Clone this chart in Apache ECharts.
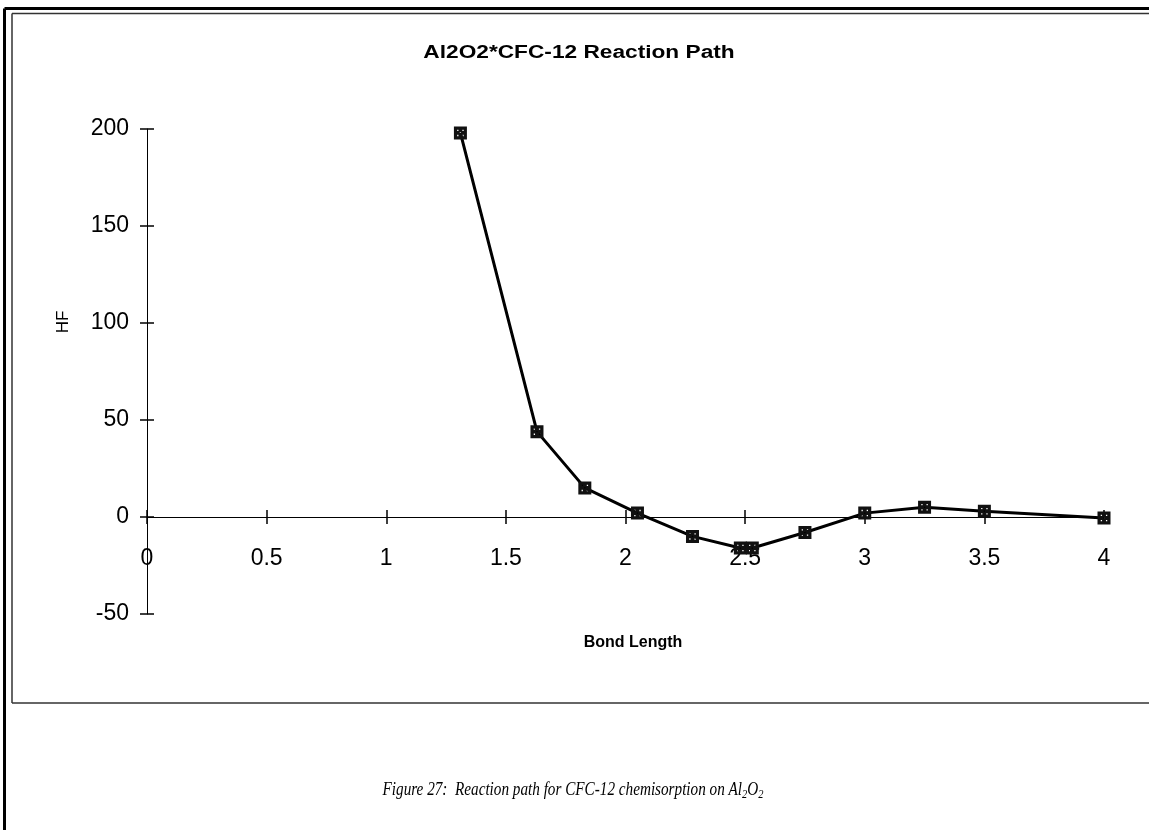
<!DOCTYPE html>
<html>
<head>
<meta charset="utf-8">
<script src="https://cdn.jsdelivr.net/npm/echarts@6/dist/echarts.min.js"></script>
<style>
html,body{margin:0;padding:0;background:#fff;}
#chart{width:1149px;height:830px;}
</style>
</head>
<body>
<div id="chart"></div>
<script>
const titleText = 'Al2O2*CFC-12 Reaction Path';
const xName = 'Bond Length';
const yName = 'HF';
const bondLength = [1.31, 1.63, 1.83, 2.05, 2.28, 2.48, 2.53, 2.75, 3.0, 3.25, 3.5, 4.0];
const hf = [198, 44, 15, 2, -10, -16, -16, -8, 2, 5, 3, -0.5];
const xTicks = [0, 0.5, 1, 1.5, 2, 2.5, 3, 3.5, 4];
const yTicks = [-50, 0, 50, 100, 150, 200];

const G = {left: 147, right: 45, top: 129, bottom: 216};
const W = 1149, H = 830;
const plotH = H - G.top - G.bottom;
const plotW = W - G.left - G.right;
const yMin = yTicks[0], yMax = yTicks[yTicks.length - 1];
const xMin = xTicks[0], xMax = xTicks[xTicks.length - 1];
const zeroFromBottom = (0 - yMin) / (yMax - yMin) * plotH;
const zeroFromTop = (yMax - 0) / (yMax - yMin) * plotH;

const chart = echarts.init(document.getElementById('chart'));
const markerPath = 'path://M0,0L12,0L12,12L0,12Z M3,3L3,4.2L4.2,4.2L4.2,3Z M7.8,3L7.8,4.2L9,4.2L9,3Z M5.4,5.4L5.4,6.6L6.6,6.6L6.6,5.4Z M3,7.8L3,9L4.2,9L4.2,7.8Z M7.8,7.8L7.8,9L9,9L9,7.8Z';
const axisFont = {fontFamily: 'Liberation Sans, Arial, sans-serif', fontSize: 23, color: '#000'};

function xAx(main, pos, offset) {
  return {
    type: 'value', min: xMin, max: xMax, interval: 0.5,
    position: pos, offset: offset,
    axisLine: {show: main, onZero: false, lineStyle: {color: '#000', width: 1}},
    axisTick: {show: true, inside: false, length: 7, lineStyle: {color: '#000', width: 1.5}},
    axisLabel: Object.assign({show: main, margin: 30}, axisFont),
    splitLine: {show: false}
  };
}
function yAx(main, pos, offset) {
  return {
    type: 'value', min: yMin, max: yMax, interval: 50,
    position: pos, offset: offset,
    axisLine: {show: main, onZero: false, lineStyle: {color: '#000', width: 1}},
    axisTick: {show: true, inside: false, length: 7, lineStyle: {color: '#000', width: 1.5}},
    axisLabel: Object.assign({show: main, margin: 18}, axisFont),
    splitLine: {show: false}
  };
}

chart.setOption({
  backgroundColor: '#fff',
  animation: false,
  grid: G,
  xAxis: [xAx(true, 'bottom', -zeroFromBottom), xAx(false, 'top', -zeroFromTop)],
  yAxis: [yAx(true, 'left', 0), yAx(false, 'right', -plotW)],
  graphic: [
    {type: 'line', shape: {x1: 4.5, y1: 8.5, x2: 4.5, y2: 830}, style: {stroke: '#000', lineWidth: 3}},
    {type: 'line', shape: {x1: 4.5, y1: 8.5, x2: 1149, y2: 8.5}, style: {stroke: '#000', lineWidth: 3}},
    {type: 'line', shape: {x1: 12, y1: 13.5, x2: 1149, y2: 13.5}, style: {stroke: '#333', lineWidth: 1.5}},
    {type: 'line', shape: {x1: 12, y1: 13.5, x2: 12, y2: 703}, style: {stroke: '#333', lineWidth: 1.5}},
    {type: 'line', shape: {x1: 12, y1: 703, x2: 1149, y2: 703}, style: {stroke: '#333', lineWidth: 1.5}},
    {type: 'text', x: 579, y: 53, scaleX: 1.26, originX: 0, originY: 0,
      style: {text: titleText, font: 'bold 18px "Liberation Sans", Arial, sans-serif', fill: '#000',
        align: 'center', verticalAlign: 'middle', textAlign: 'center', textVerticalAlign: 'middle'}},
    {type: 'text', x: 63, y: 322, rotation: Math.PI / 2,
      style: {text: yName, font: '17px "Liberation Sans", Arial, sans-serif', fill: '#000',
        align: 'center', verticalAlign: 'middle', textAlign: 'center', textVerticalAlign: 'middle'}},
    {type: 'text', x: 633, y: 643,
      style: {text: xName, font: 'bold 16px "Liberation Sans", Arial, sans-serif', fill: '#000',
        align: 'center', verticalAlign: 'middle', textAlign: 'center', textVerticalAlign: 'middle'}},
    {type: 'text', x: 573, y: 790, scaleX: 0.8, originX: 0, originY: 0,
      style: {
        text: '{a|Figure 27:  Reaction path for CFC-12 chemisorption on Al}{s|2}{a|O}{s|2}',
        align: 'center', verticalAlign: 'middle', textAlign: 'center', textVerticalAlign: 'middle',
        rich: {
          a: {font: 'italic 19px "Liberation Serif", "Times New Roman", serif', fill: '#000'},
          s: {font: 'italic 13px "Liberation Serif", "Times New Roman", serif', fill: '#000', padding: [10, 0, 0, 0]}
        }
      }}
  ],
  series: [{
    type: 'line',
    xAxisIndex: 0, yAxisIndex: 0,
    data: bondLength.map((x, i) => [x, hf[i]]),
    symbol: markerPath,
    symbolSize: 13,
    lineStyle: {color: '#000', width: 3},
    itemStyle: {color: '#111'},
    z: 5
  }]
});
</script>
</body>
</html>
